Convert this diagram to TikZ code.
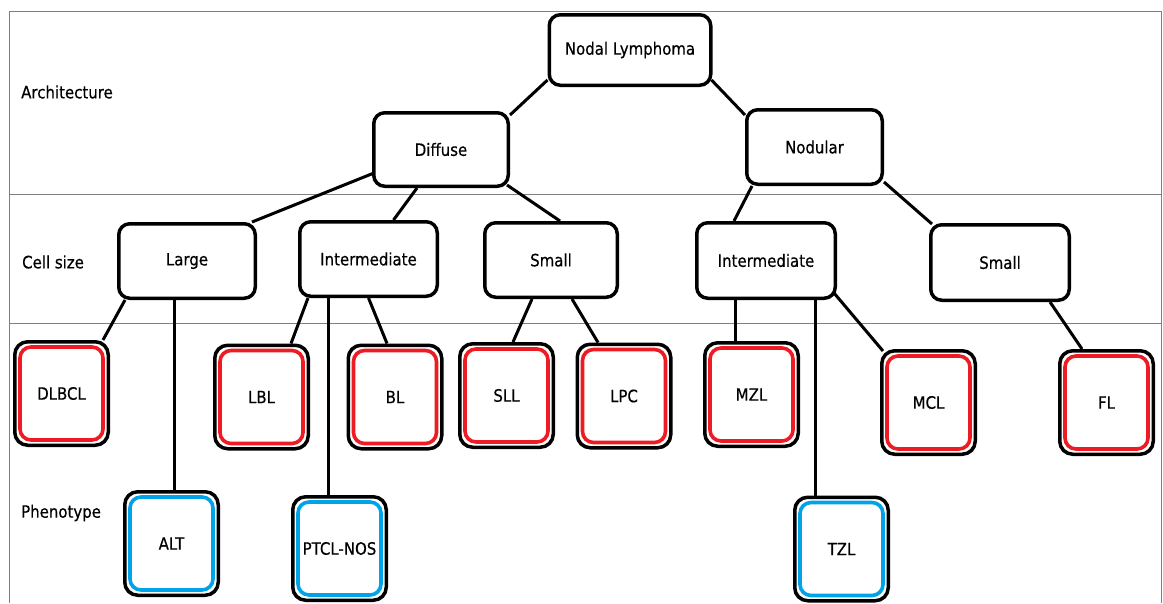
\documentclass[tikz,border=0pt]{standalone}
\usepackage{fontspec}
\setmainfont{DejaVu Sans}[FakeStretch=0.88,FakeBold=0.5]
\usetikzlibrary{backgrounds}
\definecolor{pred}{HTML}{ED1C24}
\definecolor{pblue}{HTML}{00A2E8}
\definecolor{framegray}{HTML}{808080}
\newcommand\leafin[2]{\draw[#2, line width=3.6pt, rounded corners=11pt] ([xshift=7pt,yshift=-7pt]#1.north west) rectangle ([xshift=-7pt,yshift=7pt]#1.south east);}
\begin{document}
\begin{tikzpicture}[x=1pt,y=-1pt,
  every node/.style={font=\fontsize{17}{20}\selectfont, text=black},
  bx/.style={draw, line width=3.5pt, rounded corners=11pt, fill=white, inner sep=0pt},
  inbox/.style={bx, minimum width=136.5pt, minimum height=74.5pt},
  lf/.style={bx, minimum width=93.5pt, minimum height=103.5pt, rounded corners=13pt},
  conn/.style={line width=3pt},
  gridline/.style={draw=framegray, line width=1pt},
  lbl/.style={anchor=west, inner sep=0pt}]
\useasboundingbox (0,0) rectangle (1163,603);

% row labels
\node[lbl] (arch) at (21,92) {Architecture};
\node[lbl] (cell) at (22,262) {Cell size};
\node[lbl] (pheno) at (21,513) {Phenotype};

% internal nodes
\node[bx, minimum width=161.5pt, minimum height=70.5pt] (nodal) at (630,50) {Nodal Lymphoma};
\node[inbox, minimum width=134.5pt, minimum height=73.5pt] (diffuse) at (441,149.5) {Diffuse};
\node[inbox, minimum width=135.5pt] (nodular) at (814.5,147) {Nodular};
\node[inbox] (large) at (187,261) {Large};
\node[inbox, minimum width=137.5pt] (intL) at (368.5,259) {Intermediate};
\node[inbox, minimum width=132.5pt] (smallL) at (551,260) {Small};
\node[inbox, minimum width=138.5pt, minimum height=75.5pt] (intR) at (766,260.5) {Intermediate};
\node[inbox, minimum width=138.5pt, minimum height=75.5pt] (smallR) at (1000,262.5) {Small};

% leaves
\node[lf] (dlbcl) at (61.5,393.5) {DLBCL};
\node[lf] (lblx) at (261.5,397) {LBL};
\node[lf] (bl) at (395,397) {BL};
\node[lf] (sll) at (506.5,395.5) {SLL};
\node[lf] (lpc) at (624,396) {LPC};
\node[lf] (mzl) at (751.5,394.5) {MZL};
\node[lf] (mcl) at (928.5,402.5) {MCL};
\node[lf] (fl) at (1106.5,402.5) {FL};
\node[lf] (alt) at (171.5,543.5) {ALT};
\node[lf] (ptcl) at (339.5,548.5) {PTCL-NOS};
\node[lf] (tzl) at (841.5,549) {TZL};

\leafin{dlbcl}{pred}
\leafin{lblx}{pred}
\leafin{bl}{pred}
\leafin{sll}{pred}
\leafin{lpc}{pred}
\leafin{mzl}{pred}
\leafin{mcl}{pred}
\leafin{fl}{pred}
\leafin{alt}{pblue}
\leafin{ptcl}{pblue}
\leafin{tzl}{pblue}

\begin{scope}[on background layer]
  % frame
  \draw[gridline] (9,603) -- (9,11) -- (1161,11) -- (1161,603);
  \draw[gridline] (9,194) -- (1161,194);
  \draw[gridline] (9,323) -- (1161,323);
  % connectors
  \draw[conn] ([yshift=7pt]nodal.south west) -- ([yshift=-4pt]diffuse.north east);
  \draw[conn] ([xshift=-1pt,yshift=7pt]nodal.south east) -- ([yshift=-7pt]nodular.north west);
  \draw[conn] ([xshift=2pt,yshift=15pt]diffuse.south west) -- ([xshift=-5pt]large.north east);
  \draw[conn] ([xshift=-24pt]diffuse.south) -- ([xshift=25pt]intL.north);
  \draw[conn] ([xshift=-3pt,yshift=3pt]diffuse.south east) -- ([xshift=9pt]smallL.north);
  \draw[conn] ([xshift=7pt]nodular.south west) -- ([xshift=-32pt]intR.north);
  \draw[conn] ([yshift=4pt]nodular.south east) -- ([xshift=3pt,yshift=-1pt]smallR.north west);
  \draw[conn] ([xshift=8pt]large.south west) -- ([xshift=-7pt]dlbcl.north east);
  \draw[conn] ([xshift=-13pt]large.south) -- ([xshift=2.5pt]alt.north);
  \draw[conn] ([xshift=10pt]intL.south west) -- ([xshift=-19pt]lblx.north east);
  \draw[conn] ([xshift=-40.5pt]intL.south) -- ([xshift=-11.5pt]ptcl.north);
  \draw[conn] (intL.south) -- ([xshift=-8pt]bl.north);
  \draw[conn] ([xshift=-19pt]smallL.south) -- ([xshift=6.5pt]sll.north);
  \draw[conn] ([xshift=21pt]smallL.south) -- ([xshift=-26pt]lpc.north);
  \draw[conn] ([xshift=-31pt]intR.south) -- ([xshift=-16.5pt]mzl.north);
  \draw[conn] ([xshift=49pt]intR.south) -- ([xshift=-26.5pt]tzl.north);
  \draw[conn] ([xshift=-3pt,yshift=7pt]intR.south east) -- ([xshift=3pt,yshift=-2pt]mcl.north west);
  \draw[conn] ([xshift=50pt]smallR.south) -- ([xshift=-24.5pt]fl.north);
\end{scope}
\end{tikzpicture}
\end{document}
